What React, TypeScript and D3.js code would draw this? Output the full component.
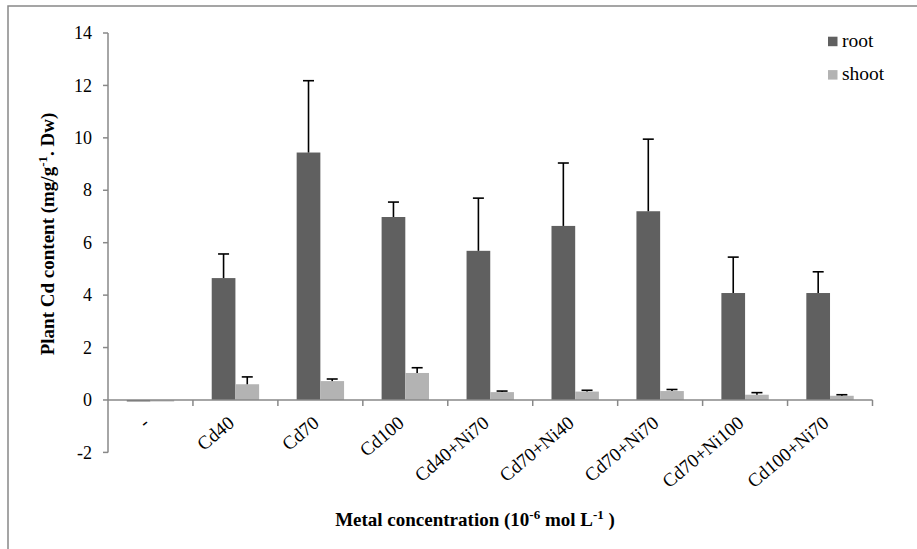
import React from "react";
import * as d3 from "d3";

const categories = ["-", "Cd40", "Cd70", "Cd100", "Cd40+Ni70", "Cd70+Ni40", "Cd70+Ni70", "Cd70+Ni100", "Cd100+Ni70"];
const rootValues = [-0.05, 4.65, 9.44, 6.98, 5.69, 6.64, 7.2, 4.08, 4.08];
const rootErrors = [0, 0.92, 2.74, 0.57, 2.01, 2.4, 2.75, 1.37, 0.81];
const shootValues = [-0.04, 0.6, 0.72, 1.03, 0.3, 0.32, 0.34, 0.2, 0.16];
const shootErrors = [0, 0.28, 0.08, 0.2, 0.04, 0.05, 0.06, 0.08, 0.04];
const yTicks = [-2, 0, 2, 4, 6, 8, 10, 12, 14];
const seriesNames = ["root", "shoot"];
const seriesColors = ["#606060", "#b3b3b3"];

const W = 917;
const H = 549;
const left = 108;
const right = 872.5;
const top = 33;
const bottom = 452.4;
const font = "Liberation Serif";
const axisColor = "#888888";

export default function App() {
  const x = d3.scaleBand<string>().domain(categories).range([left, right]).paddingInner(0).paddingOuter(0);
  const y = d3.scaleLinear().domain([-2, 14]).range([bottom, top]);
  const bw = x.bandwidth() * 0.279;
  const series = [
    { values: rootValues, errors: rootErrors },
    { values: shootValues, errors: shootErrors },
  ];

  return (
    <svg width={W} height={H} style={{ position: "absolute", left: 0, top: 0, fontFamily: font }}>
      <rect x={0} y={0} width={W} height={H} fill="#fff" />
      <rect x={8} y={6} width={W + 20} height={H + 20} fill="none" stroke={axisColor} strokeWidth={1.5} />

      {/* y axis */}
      <line x1={left} x2={left} y1={y(-2)} y2={y(14)} stroke={axisColor} strokeWidth={1.5} />
      {yTicks.map((t) => (
        <g key={t}>
          <line x1={left - 5} x2={left} y1={y(t)} y2={y(t)} stroke={axisColor} strokeWidth={1.5} />
          <text x={left - 16} y={y(t)} dy="0.34em" textAnchor="end" style={{ fontFamily: font }} fontSize={18} fill="#000">
            {t}
          </text>
        </g>
      ))}

      {/* bars */}
      {series.map((s, si) =>
        categories.map((c, i) => {
          const v = s.values[i];
          const x0 = (x(c) as number) + x.bandwidth() / 2 - bw + si * bw;
          const y0 = Math.min(y(v), y(0));
          const h = Math.abs(y(v) - y(0));
          return (
            <g key={`${si}-${i}`}>
              <rect x={x0} y={y0} width={bw} height={Math.max(h, 1.5)} fill={seriesColors[si]} />
              {s.errors[i] > 0 && (
                <g stroke="#000" strokeWidth={1.6}>
                  <line x1={x0 + bw / 2} x2={x0 + bw / 2} y1={y(v)} y2={y(v + s.errors[i])} />
                  <line x1={x0 + bw / 2 - 5.5} x2={x0 + bw / 2 + 5.5} y1={y(v + s.errors[i])} y2={y(v + s.errors[i])} />
                </g>
              )}
            </g>
          );
        })
      )}

      {/* x axis at zero */}
      <line x1={left} x2={right} y1={y(0)} y2={y(0)} stroke={axisColor} strokeWidth={1.5} />
      {categories.map((c) => (
        <line key={c} x1={(x(c) as number) + x.bandwidth()} x2={(x(c) as number) + x.bandwidth()} y1={y(0)} y2={y(0) + 6} stroke={axisColor} strokeWidth={1.5} />
      ))}
      {categories.map((c) => {
        const cx = (x(c) as number) + x.bandwidth() / 2;
        const cy = y(0) + 25;
        return (
          <text key={c} transform={`translate(${cx},${cy}) rotate(-40)`} textAnchor="end" style={{ fontFamily: font }} fontSize={19} fill="#000">
            {c}
          </text>
        );
      })}

      {/* axis titles */}
      <text transform={`translate(54,234) rotate(-90)`} textAnchor="middle" style={{ fontFamily: font }} fontSize={19} fontWeight="bold" fill="#000">
        Plant Cd content (mg/g
        <tspan dy={-7} fontSize={13}>-1</tspan>
        <tspan dy={7}>. Dw)</tspan>
      </text>
      <text x={475} y={526} textAnchor="middle" style={{ fontFamily: font }} fontSize={19} fontWeight="bold" fill="#000">
        Metal concentration (10
        <tspan dy={-7} fontSize={13}>-6</tspan>
        <tspan dy={7}> mol L</tspan>
        <tspan dy={-7} fontSize={13}>-1</tspan>
        <tspan dy={7}> )</tspan>
      </text>

      {/* legend */}
      {seriesNames.map((n, i) => (
        <g key={n}>
          <rect x={828} y={36.7 + i * 33.4} width={9.5} height={9.5} fill={seriesColors[i]} />
          <text x={842} y={46.7 + i * 33.4} style={{ fontFamily: font }} fontSize={19.5} fill="#000">
            {n}
          </text>
        </g>
      ))}
    </svg>
  );
}
